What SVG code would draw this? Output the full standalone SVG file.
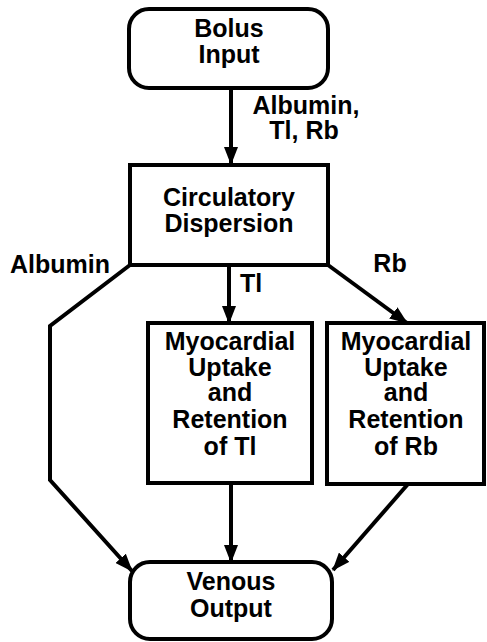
<svg xmlns="http://www.w3.org/2000/svg" width="487" height="642" viewBox="0 0 487 642">
<style>
.box{fill:#fff;stroke:#000;stroke-width:4}
.t{font-family:"Liberation Sans",Arial,sans-serif;font-weight:bold;font-size:25px;fill:#000;text-anchor:middle}
.c{fill:none;stroke:#000;stroke-width:4;stroke-linejoin:miter}
</style>
<defs>
<marker id="ah" markerUnits="userSpaceOnUse" markerWidth="18" markerHeight="14" refX="17" refY="7" orient="auto">
<path d="M0,0 L18,7 L0,14 z" fill="#000"/>
</marker>
</defs>
<rect width="487" height="642" fill="#fff"/>
<g id="connectors">
<path class="c" d="M231,88 V164" marker-end="url(#ah)"/>
<path class="c" d="M130,265 L50,326 V480 L132,571" marker-end="url(#ah)"/>
<path class="c" d="M229,265 V323" marker-end="url(#ah)"/>
<path class="c" d="M328,265 L407,323" marker-end="url(#ah)"/>
<path class="c" d="M231,483 V562" marker-end="url(#ah)"/>
<path class="c" d="M408,484 L333,570" marker-end="url(#ah)"/>
<text class="t" x="306" y="114">Albumin,</text>
<text class="t" x="304" y="139">Tl, Rb</text>
<text class="t" x="60" y="273">Albumin</text>
<text class="t" x="251" y="292">Tl</text>
<text class="t" x="390" y="272">Rb</text>
</g>
<g id="bolus">
<rect class="box" x="129" y="9" width="199" height="79" rx="20"/>
<text class="t" x="229" y="37">Bolus</text>
<text class="t" x="229" y="63">Input</text>
</g>
<g id="circulatory">
<rect class="box" x="130" y="165" width="198" height="100"/>
<text class="t" x="229" y="206">Circulatory</text>
<text class="t" x="229" y="232">Dispersion</text>
</g>
<g id="tl">
<rect class="box" x="148" y="323" width="164" height="160"/>
<text class="t" x="230" y="350">Myocardial</text>
<text class="t" x="230" y="376">Uptake</text>
<text class="t" x="230" y="401">and</text>
<text class="t" x="230" y="428">Retention</text>
<text class="t" x="230" y="455">of Tl</text>
</g>
<g id="rb">
<rect class="box" x="327" y="323" width="157" height="161"/>
<text class="t" x="406" y="350">Myocardial</text>
<text class="t" x="406" y="376">Uptake</text>
<text class="t" x="406" y="401">and</text>
<text class="t" x="406" y="428">Retention</text>
<text class="t" x="406" y="455">of Rb</text>
</g>
<g id="venous">
<rect class="box" x="130" y="562" width="202" height="77" rx="20"/>
<text class="t" x="231" y="590">Venous</text>
<text class="t" x="231" y="617">Output</text>
</g>
</svg>
